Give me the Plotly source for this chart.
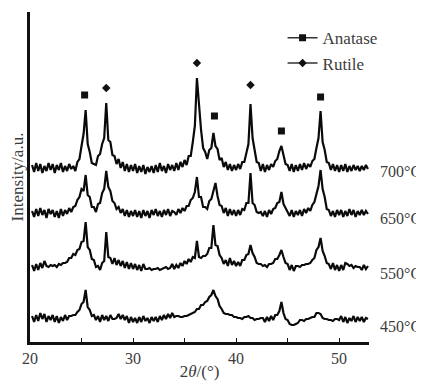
import numpy as np
import plotly.graph_objects as go

# 2theta sampling grid (degrees), step 0.2 from 20.2 to 52.8
two_theta = np.round(np.arange(20.2, 52.81, 0.2), 1)

# intensities (a.u.) relative to each pattern's own baseline
i_700 = [3,-4,5,-3,4,-5,2,-3,5,-2,
         4,-5,3,-2,5,-4,2,-3,4,-1,
         2,-3,6,9,22,34,58,24,16,5,
         4,3,12,14,24,30,65,28,26,13,
         12,4,9,0,6,-3,4,-4,3,-3,
         4,-5,2,-4,3,-6,1,-4,2,-5,
         3,-4,5,-3,2,-5,4,-2,3,-3,
         5,-2,6,1,8,3,12,12,26,42,
         90,60,38,20,16,9,18,20,35,22,
         19,8,10,1,6,-2,4,-3,3,-2,
         4,-1,6,6,16,24,64,30,18,6,
         5,-3,4,-4,3,-2,4,1,7,9,
         17,22,13,4,3,-3,4,-4,3,-3,
         4,-2,5,-1,4,1,7,9,20,30,
         57,26,18,6,5,-2,4,-3,3,-4,
         3,-3,4,-4,2,-3,3,-2,2,-3,
         2,-2,3,-1]
i_650 = [2,-4,4,-3,5,-2,3,-5,4,-1,
         3,-4,2,-5,4,-3,3,-1,5,1,
         6,7,13,16,24,22,38,18,16,6,
         6,1,9,10,20,24,42,26,22,12,
         10,4,6,0,4,-3,3,-4,2,-3,
         3,-4,2,-5,3,-3,2,-5,3,-2,
         4,-3,2,-4,3,-2,4,-3,2,1,
         -2,4,0,5,2,7,7,13,15,21,
         36,16,16,6,6,4,12,14,22,30,
         17,8,7,0,5,-3,4,-2,3,-3,
         3,-2,4,3,10,10,40,10,8,1,
         0,1,-3,2,-4,3,-1,4,5,10,
         11,21,9,5,0,-3,3,-4,2,-2,
         3,-3,4,0,5,2,8,11,19,27,
         43,24,16,4,3,-3,2,-4,3,-2,
         3,-4,2,-3,4,-2,3,-4,2,-2,
         3,-2,2,-1]
i_550 = [2,-4,3,-3,4,-1,6,1,0,2,
         1,2,0,3,2,4,4,5,9,9,
         13,12,17,18,25,26,45,20,17,8,
         7,0,1,-3,4,6,35,10,9,3,
         9,2,7,1,6,-1,5,-2,4,-2,
         3,-3,2,-4,3,-2,-2,-1,-3,-2,
         -2,-1,-3,-2,-1,0,-2,-1,3,-2,
         2,-1,4,1,6,3,8,5,10,9,
         26,10,9,11,11,13,19,19,42,22,
         21,12,9,3,7,1,9,2,6,1,
         5,1,7,7,12,13,22,14,10,4,
         3,3,1,2,0,3,3,4,8,8,
         12,17,10,4,3,-3,2,-4,1,1,
         0,2,2,3,3,4,7,9,17,20,
         29,16,11,4,3,-2,4,-3,2,-4,
         2,-3,4,3,1,2,-1,1,0,0,
         -3,2,-2,1]
i_450 = [3,-3,4,-2,6,0,5,-3,3,-1,
         4,-3,3,-4,2,-2,4,-1,3,3,
         4,4,7,9,15,17,29,12,9,3,
         4,-1,3,-3,4,-1,3,-2,4,0,
         0,1,5,0,4,-1,3,-4,2,-3,
         1,-4,2,-3,3,-2,1,-4,2,-2,
         2,-3,3,-1,4,0,5,1,6,2,
         3,3,2,2,3,3,4,5,6,7,
         10,10,14,14,17,18,22,24,29,23,
         20,13,10,6,5,5,4,4,2,2,
         1,1,0,2,2,3,1,1,-1,0,
         0,1,1,-3,2,-2,3,-1,4,4,
         8,17,6,0,-1,-5,-6,-6,-5,-4,
         -1,-1,-2,0,0,1,2,2,6,6,
         5,1,0,0,-1,-1,-2,0,0,-1,
         3,-3,2,-4,1,-2,3,-3,2,-2,
         2,-3,1,0]

temperatures = ["700°C", "650°C", "550°C", "450°C"]
offsets = [174, 129, 75, 23]
label_y = [171, 124, 69, 16]
patterns = [i_700, i_650, i_550, i_450]

# phase markers
anatase_x = [25.3, 37.9, 44.4, 48.2]
anatase_y = [247, 226, 211, 245]
rutile_x = [27.4, 36.2, 41.4]
rutile_y = [254, 279, 257]

font_family = "Liberation Serif, DejaVu Serif, serif"
txt_col = "#3c3c3c"

fig = go.Figure()
for vals, off in zip(patterns, offsets):
    fig.add_trace(go.Scatter(x=two_theta, y=np.array(vals) + off, mode="lines",
                             line=dict(color="#0a0a0a", width=2.2), showlegend=False,
                             hoverinfo="skip"))

fig.add_trace(go.Scatter(x=anatase_x, y=anatase_y, mode="markers",
                         marker=dict(symbol="square", size=7, color="#111"),
                         showlegend=False))
fig.add_trace(go.Scatter(x=rutile_x, y=rutile_y, mode="markers",
                         marker=dict(symbol="diamond", size=6.5, color="#111"),
                         showlegend=False))
# legend entries
fig.add_trace(go.Scatter(x=[None], y=[None], mode="lines+markers", name="Anatase",
                         line=dict(color="#333", width=1.5),
                         marker=dict(symbol="square", size=7, color="#111")))
fig.add_trace(go.Scatter(x=[None], y=[None], mode="lines+markers", name="Rutile",
                         line=dict(color="#333", width=1.5),
                         marker=dict(symbol="diamond", size=6.5, color="#111")))

for t, ly in zip(temperatures, label_y):
    fig.add_annotation(x=1.027, xref="paper", y=ly, yref="y", text=t,
                       showarrow=False, xanchor="left", yanchor="middle",
                       font=dict(family=font_family, size=16, color=txt_col))

fig.update_layout(
    width=416, height=376,
    margin=dict(l=22, r=55, t=4, b=42),
    paper_bgcolor="white", plot_bgcolor="white",
    font=dict(family=font_family, size=16, color=txt_col),
    showlegend=True,
    legend=dict(x=0.745, y=0.975, xanchor="left", yanchor="top",
                bgcolor="rgba(0,0,0,0)", font=dict(size=17, color=txt_col),
                itemwidth=30, tracegroupgap=0),
    xaxis=dict(range=[20, 52.9], showgrid=False, zeroline=False, automargin=False,
               showline=True, linecolor="#111", linewidth=2.5,
               tickvals=[20, 25, 30, 35, 40, 45, 50],
               ticktext=["20", "", "30", "", "40", "", "50"],
               ticks="inside", ticklen=4, tickcolor="#111", tickwidth=1,
               tickfont=dict(size=16, color=txt_col),
               title=dict(text="2<i>θ</i>/(°)", standoff=0,
                          font=dict(size=17, color=txt_col))),
    yaxis=dict(range=[0, 330], showgrid=False, zeroline=False, automargin=False,
               showline=True, linecolor="#111", linewidth=3,
               showticklabels=False, ticks="",
               title=dict(text="Intensity/a.u.", standoff=6,
                          font=dict(size=17, color=txt_col))),
)

fig.write_html("out.html")
